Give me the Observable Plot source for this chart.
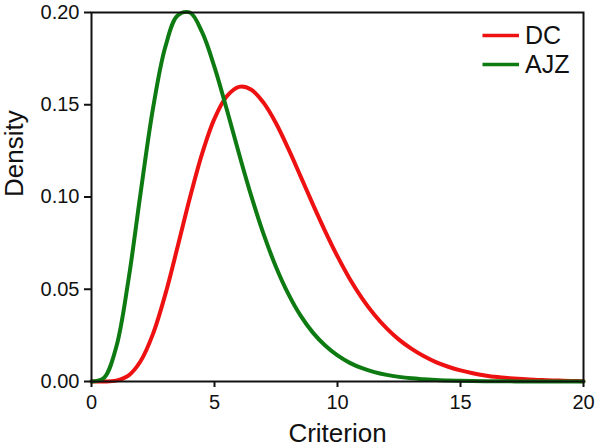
<!DOCTYPE html>
<html>
<head>
<meta charset="utf-8">
<script src="https://cdn.jsdelivr.net/npm/d3@7"></script>
<script src="https://cdn.jsdelivr.net/npm/@observablehq/plot@0.6"></script>
<style>
  html, body { margin: 0; padding: 0; background: #fff; }
  #chart svg { display: block; }
</style>
</head>
<body>
<div id="chart"></div>
<script>
// Criterion grid (x) at 0.5 steps
const criterion = [0, 0.5, 1, 1.5, 2, 2.5, 3, 3.5, 4, 4.5, 5, 5.5, 6, 6.5, 7, 7.5, 8, 8.5, 9, 9.5,
  10, 10.5, 11, 11.5, 12, 12.5, 13, 13.5, 14, 14.5, 15, 15.5, 16, 16.5, 17, 17.5, 18, 18.5, 19, 19.5, 20];

// Density values estimated from the curves
const dcDensity = [0, 0.0000, 0.0005, 0.0032, 0.0111, 0.0258, 0.0472, 0.0730, 0.0996, 0.1237,
  0.1425, 0.1546, 0.1597, 0.1581, 0.1510, 0.1400, 0.1262, 0.1112, 0.0960, 0.0814,
  0.0678, 0.0556, 0.0451, 0.0362, 0.0288, 0.0227, 0.0178, 0.0138, 0.0105, 0.0080,
  0.0060, 0.0045, 0.0033, 0.0024, 0.0018, 0.0013, 0.0009, 0.0007, 0.0005, 0.0003, 0.0002];

const ajzDensity = [0, 0.0019, 0.0184, 0.0549, 0.1026, 0.1480, 0.1813, 0.1984, 0.2000, 0.1892,
  0.1704, 0.1474, 0.1233, 0.1003, 0.0797, 0.0621, 0.0475, 0.0357, 0.0265, 0.0195,
  0.0141, 0.0101, 0.0072, 0.0051, 0.0036, 0.0025, 0.0017, 0.0012, 0.0008, 0.0005,
  0.0004, 0.0003, 0.0002, 0.0001, 0.0001, 0.0000, 0.0000, 0.0000, 0.0000, 0.0000, 0.0000];

const seriesNames = ["DC", "AJZ"];
const seriesColors = ["#ee1111", "#0e7a12"];
const xTicks = [0, 5, 10, 15, 20];
const yTicks = [0, 0.05, 0.10, 0.15, 0.20];
const xLabel = "Criterion";
const yLabel = "Density";

const rows = [];
criterion.forEach((x, i) => rows.push({x, y: dcDensity[i], series: "DC"}));
criterion.forEach((x, i) => rows.push({x, y: ajzDensity[i], series: "AJZ"}));

const FONT = "'Liberation Sans', Arial, Helvetica, sans-serif";

// Legend drawn as a custom render mark in the top-right corner of the frame
const legendMark = (index, scales, values, dimensions) => {
  const {width, marginRight, marginTop} = dimensions;
  const right = width - marginRight;
  const g = d3.create("svg:g").attr("font-family", FONT).attr("text-anchor", "start");
  seriesNames.forEach((name, i) => {
    const y = marginTop + 23.5 + i * 29;
    g.append("line")
      .attr("x1", right - 100.5).attr("x2", right - 64)
      .attr("y1", y).attr("y2", y)
      .attr("stroke", scales.color(name))
      .attr("stroke-width", 3.3);
    g.append("text")
      .attr("x", right - 58).attr("y", y)
      .attr("dy", "0.35em")
      .attr("text-anchor", "start")
      .attr("font-size", 25)
      .attr("fill", "#111")
      .text(name);
  });
  return g.node();
};

const chart = Plot.plot({
  width: 601,
  height: 448,
  marginLeft: 91,
  marginRight: 18,
  marginTop: 12,
  marginBottom: 67,
  style: {fontFamily: FONT, color: "#111", background: "#fff", overflow: "visible"},
  x: {domain: [0, 20]},
  y: {domain: [0, 0.2]},
  color: {domain: seriesNames, range: seriesColors},
  marks: [
    Plot.line(rows, {x: "x", y: "y", z: "series", stroke: "series", strokeWidth: 4, curve: "catmull-rom"}),
    Plot.frame({stroke: "#111", strokeWidth: 2}),
    Plot.axisX({ticks: xTicks, tickFormat: d => d3.format("d")(d), tickSize: 6, tickPadding: 7,
      fontSize: 20, strokeWidth: 2, label: null}),
    Plot.axisY({ticks: yTicks, tickFormat: d3.format(".2f"), tickSize: 7, tickPadding: 5,
      fontSize: 20, strokeWidth: 2, label: null}),
    Plot.text([xLabel], {frameAnchor: "bottom", text: d => d, dy: 60, fontSize: 26, fill: "#111"}),
    Plot.text([yLabel], {frameAnchor: "left", text: d => d, rotate: -90, dx: -77, fontSize: 26, fill: "#111"}),
    legendMark
  ]
});

document.getElementById("chart").appendChild(chart);
</script>
</body>
</html>
